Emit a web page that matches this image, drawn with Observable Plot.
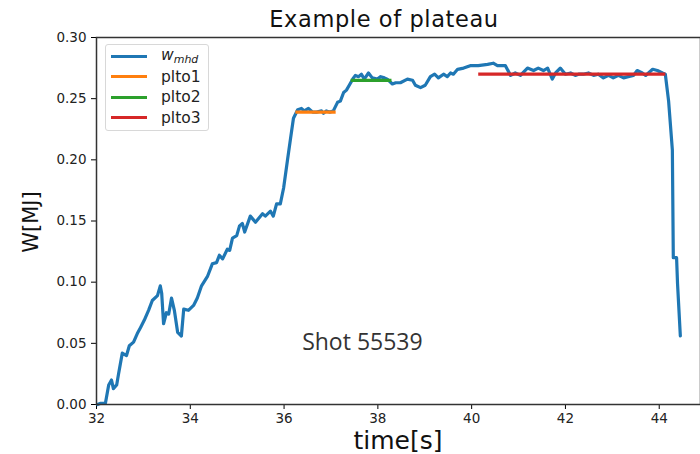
<!DOCTYPE html>
<html>
<head>
<meta charset="utf-8">
<script src="https://cdn.jsdelivr.net/npm/d3@7"></script>
<script src="https://cdn.jsdelivr.net/npm/@observablehq/plot@0.6"></script>
<style>
  html, body { margin: 0; padding: 0; background: #fff; }
  #wrap { position: relative; width: 700px; height: 454px; overflow: hidden; font-family: "DejaVu Sans", sans-serif; }
  .ov { position: absolute; white-space: nowrap; color: #111; }
  #title { left: 384px; top: 19px; transform: translate(-50%, -50%); font-size: 22.5px; letter-spacing: 0.6px; }
  #ylab { left: 31px; top: 222px; transform: translate(-50%, -50%) rotate(-90deg); font-size: 21px; }
  #xlab { left: 398px; top: 440px; transform: translate(-50%, -50%); font-size: 25px; }
  #legend { left: 105px; top: 44px; width: 104px; height: 87px; border: 1px solid #d8d8d8; border-radius: 3px; background: rgba(255,255,255,0.85); box-sizing: border-box; }
  .lrow { position: absolute; left: 5px; height: 20px; display: flex; align-items: center; }
  .lsw { width: 36px; height: 3px; margin-right: 14px; }
  .ltx { font-size: 15.5px; color: #222; }
</style>
</head>
<body>
<div id="wrap"></div>
<script>
// ---- data ----
const times = [32.02,32.09,32.19,32.26,32.32,32.36,32.43,32.47,32.55,32.64,32.70,32.79,32.87,32.94,33.02,33.11,33.19,33.30,33.36,33.39,33.43,33.49,33.54,33.60,33.66,33.73,33.81,33.86,33.96,34.07,34.15,34.24,34.37,34.47,34.56,34.62,34.69,34.79,34.84,34.90,34.99,35.05,35.11,35.16,35.28,35.39,35.54,35.60,35.71,35.77,35.84,35.92,35.99,36.07,36.14,36.20,36.29,36.37,36.43,36.52,36.61,36.69,36.80,36.84,36.90,36.97,37.05,37.14,37.20,37.27,37.33,37.39,37.48,37.52,37.59,37.65,37.71,37.80,37.88,37.99,38.06,38.14,38.20,38.31,38.38,38.48,38.63,38.74,38.80,38.91,39.01,39.12,39.21,39.29,39.40,39.48,39.55,39.61,39.70,39.83,39.97,40.14,40.34,40.46,40.55,40.72,40.83,40.93,41.04,41.19,41.32,41.42,41.53,41.62,41.72,41.79,41.89,42.00,42.11,42.21,42.28,42.38,42.49,42.60,42.70,42.81,42.92,43.02,43.13,43.24,43.34,43.45,43.53,43.64,43.71,43.77,43.86,43.96,44.07,44.13,44.20,44.28,44.30,44.37,44.39,44.45];
const wmhd = [0.000,0.001,0.001,0.016,0.020,0.013,0.016,0.025,0.042,0.040,0.048,0.051,0.058,0.063,0.069,0.077,0.085,0.089,0.097,0.091,0.066,0.075,0.074,0.087,0.077,0.059,0.056,0.078,0.077,0.081,0.087,0.097,0.105,0.115,0.116,0.122,0.119,0.127,0.126,0.136,0.138,0.146,0.148,0.141,0.154,0.149,0.156,0.154,0.158,0.154,0.164,0.164,0.177,0.199,0.218,0.234,0.241,0.242,0.240,0.242,0.239,0.239,0.240,0.238,0.240,0.239,0.240,0.247,0.248,0.255,0.257,0.261,0.267,0.269,0.268,0.270,0.266,0.271,0.267,0.266,0.268,0.267,0.266,0.262,0.263,0.263,0.266,0.265,0.261,0.259,0.261,0.268,0.270,0.267,0.270,0.268,0.271,0.270,0.274,0.275,0.277,0.277,0.278,0.279,0.277,0.277,0.269,0.271,0.269,0.275,0.273,0.275,0.273,0.275,0.266,0.271,0.275,0.270,0.271,0.269,0.270,0.270,0.271,0.269,0.270,0.267,0.269,0.267,0.269,0.267,0.268,0.269,0.273,0.271,0.269,0.271,0.274,0.273,0.271,0.270,0.248,0.208,0.120,0.120,0.099,0.056];

const plateauNames = ["plto1", "plto2", "plto3"];
const plateauStart = [36.24, 37.42, 40.14];
const plateauEnd   = [37.10, 38.29, 44.13];
const plateauLevel = [0.239, 0.265, 0.270];
const plateauColors = ["#ff7f0e", "#2ca02c", "#d62728"];
const lineColor = "#1f77b4";

const xTicks = [32, 34, 36, 38, 40, 42, 44];
const yTicks = [0.00, 0.05, 0.10, 0.15, 0.20, 0.25, 0.30];

const annotText = "Shot 55539";
const annotT = 37.67;
const annotW = 0.0505;

// ---- build tables ----
const series = times.map((t, i) => ({t, w: wmhd[i]}));
const plateaus = plateauNames.map((name, i) => ({name, t1: plateauStart[i], t2: plateauEnd[i], w: plateauLevel[i], color: plateauColors[i]}));

const chart = Plot.plot({
  width: 700,
  height: 454,
  marginLeft: 96,
  marginRight: 0,
  marginTop: 37,
  marginBottom: 50,
  style: {fontFamily: "DejaVu Sans, sans-serif", fontSize: "13.5px", color: "#222", background: "transparent"},
  x: {domain: [32, 44.88]},
  y: {domain: [0, 0.30]},
  marks: [
    Plot.axisX({ticks: xTicks, tickFormat: d => String(d), tickSize: 5, tickPadding: 4, label: null, stroke: "#000", fontSize: 13.5}),
    Plot.axisY({ticks: yTicks, tickFormat: d3.format(".2f"), tickSize: 5, tickPadding: 5, label: null, stroke: "#000", fontSize: 13.5}),
    Plot.line(series, {x: "t", y: "w", stroke: lineColor, strokeWidth: 3.2, strokeLinejoin: "round", strokeLinecap: "round"}),
    Plot.link(plateaus, {x1: "t1", x2: "t2", y1: "w", y2: "w", stroke: "color", strokeWidth: 3.2}),
    Plot.text([{t: annotT, w: annotW}], {x: "t", y: "w", text: () => annotText, fontFamily: "Open Sans, sans-serif", fontSize: 23, fill: "#333"}),
    Plot.frame({stroke: "#333", strokeWidth: 1.5})
  ]
});

const wrap = document.getElementById("wrap");
wrap.appendChild(chart);

function ov(id, html) {
  const d = document.createElement("div");
  d.className = "ov";
  d.id = id;
  d.innerHTML = html;
  wrap.appendChild(d);
  return d;
}
ov("title", "Example of plateau");
ov("ylab", "W[MJ]");
ov("xlab", "time[s]");

const legend = ov("legend", "");
const entries = [{label: "<i>w</i><sub style='font-size:11px;font-style:italic;vertical-align:-3px'>mhd</sub>", color: lineColor}]
  .concat(plateauNames.map((n, i) => ({label: n, color: plateauColors[i]})));
entries.forEach((e, i) => {
  const r = document.createElement("div");
  r.className = "lrow";
  r.style.top = (1 + i * 20.5) + "px";
  r.innerHTML = `<div class="lsw" style="background:${e.color}"></div><div class="ltx">${e.label}</div>`;
  legend.appendChild(r);
});
</script>
</body>
</html>
